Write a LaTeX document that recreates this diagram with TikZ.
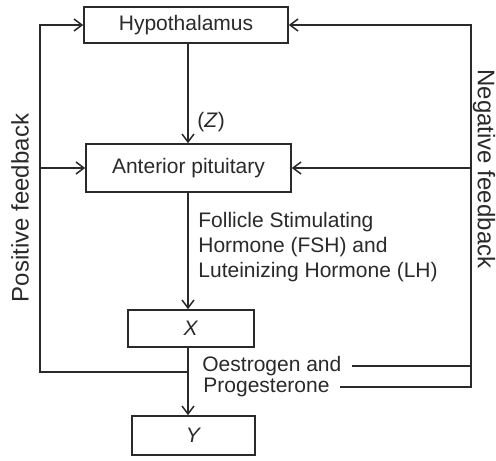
\documentclass[tikz,border=0pt]{standalone}
\usepackage{fontspec}
\setmainfont{Liberation Sans}
\usepackage{tikz}
\usetikzlibrary{arrows.meta}
\definecolor{inkc}{HTML}{2A2A2A}
\newcommand{\lblfont}{\fontsize{10.5}{12.5}\selectfont}
\newcommand{\sidefont}{\fontsize{12}{14}\selectfont}
\tikzset{
  >={Straight Barb[length=4pt,width=6pt]},
  box/.style={draw=inkc,line width=0.8pt,fill=white,inner sep=0pt,font=\lblfont,text=inkc},
  flow/.style={->,line width=0.75pt,draw=inkc},
  fb/.style={line width=0.75pt,draw=inkc},
  lbl/.style={font=\lblfont,text=inkc,inner sep=0pt},
  side/.style={font=\sidefont,text=inkc,inner sep=0pt},
}

\begin{document}
\begin{tikzpicture}[x=0.5pt,y=-0.5pt]
  \useasboundingbox[fill=white] (0,0) rectangle (496,460);
  % boxes down the middle
  \node[box,minimum width=102pt,minimum height=18pt] (hyp) at (186,25) {Hypothalamus};
  \node[box,minimum width=102.5pt,minimum height=24pt] (ant) at (188.5,168) {Anterior pituitary};
  \node[box,minimum width=63pt,minimum height=18.5pt] (X) at (191,328.5) {\textit{X}};
  \node[box,minimum width=61.5pt,minimum height=19.5pt] (Y) at (193.5,435.5) {\textit{Y}};
  \coordinate (sp) at (188,0);
  \draw[flow] (hyp.south -| sp) -- (ant.north -| sp);
  \node[lbl,anchor=west] (z) at (197,122) {(\textit{Z})};
  \draw[flow] (ant.south -| sp) -- (X.north -| sp);
  \node[lbl,anchor=north west,align=left] (fsh) at (198,212) {Follicle Stimulating\\Hormone (FSH) and\\Luteinizing Hormone (LH)};
  \draw[flow] (X.south -| sp) -- (Y.north -| sp);
  \node[lbl,anchor=west] (oes) at (202,366) {Oestrogen and};
  \node[lbl,anchor=west] (pro) at (203,387) {Progesterone};
  % positive feedback loop
  \coordinate (lb) at (40,372);
  \draw[flow] (lb -| sp) -- (lb) |- (hyp.west);
  \draw[flow] (ant.west -| lb) -- (ant.west);
  \node[side,rotate=90] (pos) at (20,208) {Positive feedback};
  % negative feedback loop
  \coordinate (rb) at (471,0);
  \draw[fb,->] ([xshift=5pt]pro.east) -- (pro.east -| rb) |- (hyp.east);
  \draw[fb] ([xshift=5pt]oes.east) -- (oes.east -| rb);
  \draw[flow] (ant.east -| rb) -- (ant.east);
  \node[side,rotate=-90] (neg) at (484,169) {Negative feedback};
\end{tikzpicture}
\end{document}
